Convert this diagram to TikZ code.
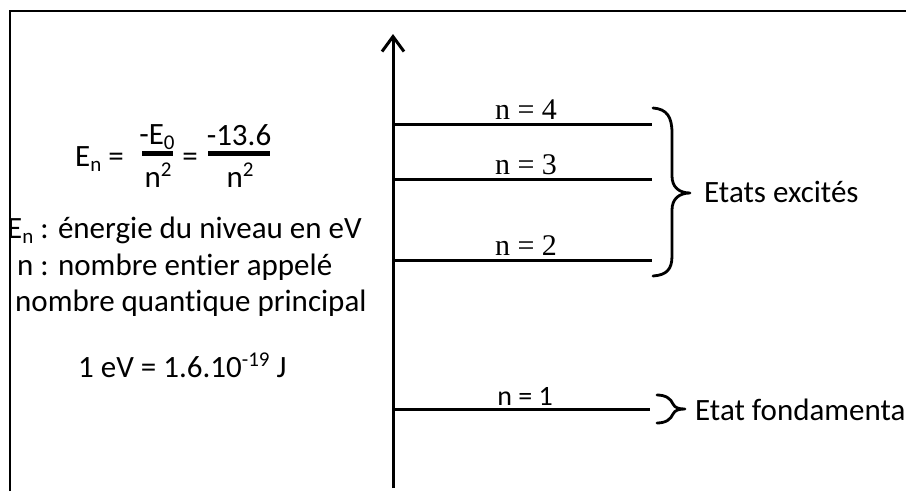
\documentclass[tikz,border=0pt]{standalone}
\usepackage{fontspec}
\setmainfont{Carlito}[Ligatures=NoCommon]
\newfontfamily\lvlfont{Liberation Serif}
\usetikzlibrary{arrows.meta}
\newcommand\mysub[1]{\raisebox{-5pt}{\fontsize{21}{24}\selectfont #1}}
\newcommand\mysup[1]{\raisebox{11pt}{\fontsize{21}{24}\selectfont #1}}
\begin{document}
\begin{tikzpicture}[x=1pt,y=-1pt,line cap=butt,
  txt/.style={font=\fontsize{31}{36}\selectfont, inner sep=0pt},
  lvltxt/.style={font=\lvlfont\fontsize{30}{34}\selectfont, inner sep=0pt, anchor=base},
  lvlsans/.style={font=\fontsize{28}{32}\selectfont, inner sep=0pt, anchor=base},
  level/.style={line width=3pt},
  fracbar/.style={line width=5pt},
  bracepath/.style={line width=2.8pt, line join=round, line cap=round}]
\useasboundingbox (0,0) rectangle (906,491);
% frame
\coordinate (fb) at (10,491);
\coordinate (fc) at (10,11);
\coordinate (fr) at (906,11);
\draw[line width=2.4pt] (fb) -- (fc) -- (fr);
% axis
\coordinate (axb) at (393,488);
\coordinate (axt) at (393,34);
\draw[line width=3pt, -{Straight Barb[length=15pt,width=22pt,line width=3pt]}] (axb) -- (axt);
% levels
\coordinate (l4a) at (393,124); \coordinate (l4b) at (652,124);
\coordinate (l3a) at (393,179); \coordinate (l3b) at (652,179);
\coordinate (l2a) at (393,260); \coordinate (l2b) at (652,260);
\coordinate (l1a) at (393,409); \coordinate (l1b) at (650,409);
\draw[level] (l4a) -- (l4b);
\draw[level] (l3a) -- (l3b);
\draw[level] (l2a) -- (l2b);
\draw[level] (l1a) -- (l1b);
\node[lvltxt] (t4) at (526,119) {n = 4};
\node[lvltxt] (t3) at (526,174) {n = 3};
\node[lvltxt] (t2) at (526,255) {n = 2};
\node[lvlsans] (t1) at (525,405) {n = 1};
% braces
\coordinate (bt) at (653,108);
\coordinate (btip) at (690,193);
\coordinate (bb) at (653,276);
\draw[bracepath] (bt) .. controls (667,109) and (672,117) .. (672,133) -- (672,176)
  .. controls (672,187) and (679,193) .. (btip)
  .. controls (679,193) and (672,199) .. (672,210) -- (672,256)
  .. controls (672,269) and (667,275) .. (bb);
\coordinate (sbt) at (657,395);
\coordinate (sbtip) at (685,409);
\coordinate (sbb) at (657,423);
\draw[bracepath] (sbt) .. controls (666,395) and (671,399) .. (673,404)
  .. controls (675,408) and (679,409) .. (sbtip)
  .. controls (679,409) and (675,410) .. (673,414)
  .. controls (671,419) and (666,423) .. (sbb);
\node[txt, anchor=base west] (exc) at (704,202) {Etats excités};
\node[txt, anchor=base west] (fond) at (695,420) {Etat fondamenta};
% formula
\node[txt, anchor=base west] (en) at (75,166) {E\mysub{n} =};
\node[txt, anchor=base] (num1) at (157,144) {-E\mysub{0}};
\coordinate (f1a) at (142,153); \coordinate (f1b) at (173,153);
\draw[fracbar] (f1a) -- (f1b);
\node[txt, anchor=base] (den1) at (158,187) {n\mysup{2}};
\node[txt, anchor=base] (eq2) at (190,166) {=};
\node[txt, anchor=base] (num2) at (239,145) {-13.6};
\coordinate (f2a) at (208,153); \coordinate (f2b) at (270,153);
\draw[fracbar] (f2a) -- (f2b);
\node[txt, anchor=base] (den2) at (240,187) {n\mysup{2}};
% explanations
\node[txt, anchor=base west] (d1) at (7,238) {E\mysub{n} : énergie du niveau en eV};
\node[txt, anchor=base west] (d2) at (17,275) {n : nombre entier appelé};
\node[txt, anchor=base west] (d3) at (15,311) {nombre quantique principal};
\node[txt, anchor=base west] (d4) at (78,377) {1 eV = 1.6.10\mysup{-19} J};
\end{tikzpicture}
\end{document}
